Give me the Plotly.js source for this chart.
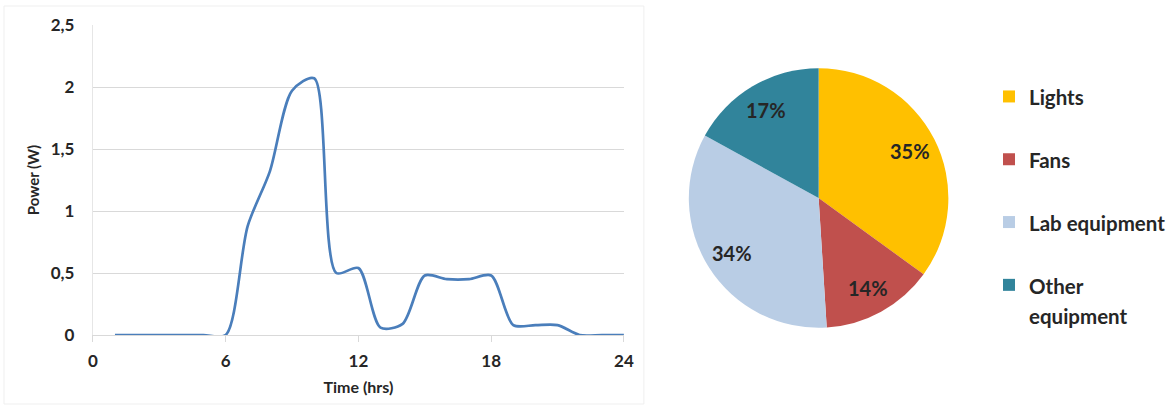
<!DOCTYPE html>
<html>
<head>
<meta charset="utf-8">
<script src="https://cdn.plot.ly/plotly-3.0.1.min.js"></script>
<style>
html,body{margin:0;padding:0;background:#ffffff;}
#chart{width:1171px;height:411px;}
</style>
</head>
<body>
<div id="chart"></div>
<script>
// ---- Data: daily power profile ----
const hours = [1, 2, 3, 4, 5, 6, 7, 8, 9, 10, 11, 12, 13, 14, 15, 16, 17, 18, 19, 20, 21, 22, 23, 24];
const power = [0, 0, 0, 0, 0, 0, 0.88, 1.32, 1.97, 2.07, 0.5, 0.54, 0.06, 0.09, 0.48, 0.45, 0.45, 0.48, 0.08, 0.08, 0.08, 0, 0, 0];
const xTickVals = [0, 6, 12, 18, 24];
const xTickText = ['0', '6', '12', '18', '24'];
const yTickVals = [0, 0.5, 1, 1.5, 2, 2.5];

// ---- Data: consumption split ----
const categories = ['Lights', 'Fans', 'Lab equipment', 'Other equipment'];
const shares = [35, 14, 34, 17];
const sliceColors = ['#FFC000', '#C0504D', '#B9CDE5', '#31849B'];

const W = 1171, H = 411;
const px = v => v / W;
const py = v => 1 - v / H;

const FONT = 'Lato, "Open Sans", "DejaVu Sans", sans-serif';
const TXT = '#262626';

// pie placement (pixels)
const PIE_CX = 820, PIE_CY = 198, PIE_R = 130;

// legend labels: two-line entries so the items are spaced as in the reference
const legendLabels = categories.map(c => {
  const t = c === 'Other equipment' ? 'Other<br>equipment' : c + '<br> ';
  return t.split('<br>').map(s => '<span style="font-size:20.5px">' + s + '</span>').join('<br>');
});

// percentage labels placed at each slice's mid-angle (Excel style)
const total = shares.reduce((a, b) => a + b, 0);
let cum = 0;
const pctAnnotations = shares.map(v => {
  const mid = (cum + v / 2) / total;
  cum += v;
  const th = mid * 2 * Math.PI;
  const r = 0.79 * PIE_R;
  return {
    xref: 'paper', yref: 'paper',
    x: px(PIE_CX + r * Math.sin(th)),
    y: py(PIE_CY - r * Math.cos(th)),
    text: v + '%',
    showarrow: false,
    xanchor: 'center', yanchor: 'middle',
    font: {family: FONT, size: 20, color: TXT, weight: 700}
  };
});

const lineTrace = {
  type: 'scatter',
  mode: 'lines',
  x: hours,
  y: power,
  line: {color: '#4A7EBB', width: 2.7, shape: 'spline', smoothing: 0.8},
  showlegend: false,
  hoverinfo: 'x+y'
};

const pieTrace = {
  type: 'pie',
  labels: legendLabels,
  values: shares,
  marker: {colors: sliceColors, line: {color: '#ffffff', width: 0}},
  sort: false,
  direction: 'clockwise',
  rotation: 0,
  textinfo: 'none',
  domain: {x: [px(PIE_CX - PIE_R), px(PIE_CX + PIE_R)], y: [py(PIE_CY + PIE_R), py(PIE_CY - PIE_R)]},
  hoverinfo: 'label+percent'
};

const layout = {
  width: W,
  height: H,
  margin: {l: 0, r: 0, t: 0, b: 0},
  paper_bgcolor: '#ffffff',
  plot_bgcolor: '#ffffff',
  separators: ',.',
  font: {family: FONT, color: TXT},
  xaxis: {
    domain: [px(93), px(625)],
    range: [0, 24],
    tickvals: xTickVals,
    ticktext: xTickText,
    ticks: 'outside',
    ticklen: 6,
    tickcolor: '#d9d9d9',
    tickwidth: 1,
    ticklabelstandoff: 5,
    showgrid: false,
    zeroline: false,
    showline: true,
    linecolor: '#d9d9d9',
    linewidth: 1,
    tickfont: {family: FONT, size: 17, color: TXT, weight: 700},
    title: {text: 'Time (hrs)', font: {family: FONT, size: 16, color: TXT, weight: 700}, standoff: 11},
    fixedrange: true
  },
  yaxis: {
    domain: [py(335), py(25)],
    range: [0, 2.5],
    tickvals: yTickVals,
    ticks: '',
    showgrid: true,
    gridcolor: '#d9d9d9',
    gridwidth: 1,
    zeroline: false,
    showline: true,
    linecolor: '#e6e6e6',
    linewidth: 1,
    ticklabelstandoff: 14,
    tickfont: {family: FONT, size: 17, color: TXT, weight: 700},
    title: {text: 'Power (W)', font: {family: FONT, size: 15, color: TXT, weight: 700}, standoff: 7},
    fixedrange: true
  },
  legend: {
    x: px(991),
    xanchor: 'left',
    y: py(75),
    yanchor: 'top',
    valign: 'top',
    font: {family: FONT, size: 23, color: TXT, weight: 700},
    bgcolor: 'rgba(0,0,0,0)',
    traceorder: 'normal'
  },
  annotations: pctAnnotations,
  shapes: [{
    type: 'rect', xref: 'paper', yref: 'paper',
    x0: px(4), x1: px(645), y0: py(404), y1: py(6),
    line: {color: '#efefef', width: 1}, fillcolor: 'rgba(0,0,0,0)', layer: 'below'
  }]
};

Plotly.newPlot('chart', [lineTrace, pieTrace], layout, {displayModeBar: false, staticPlot: true});
</script>
</body>
</html>
